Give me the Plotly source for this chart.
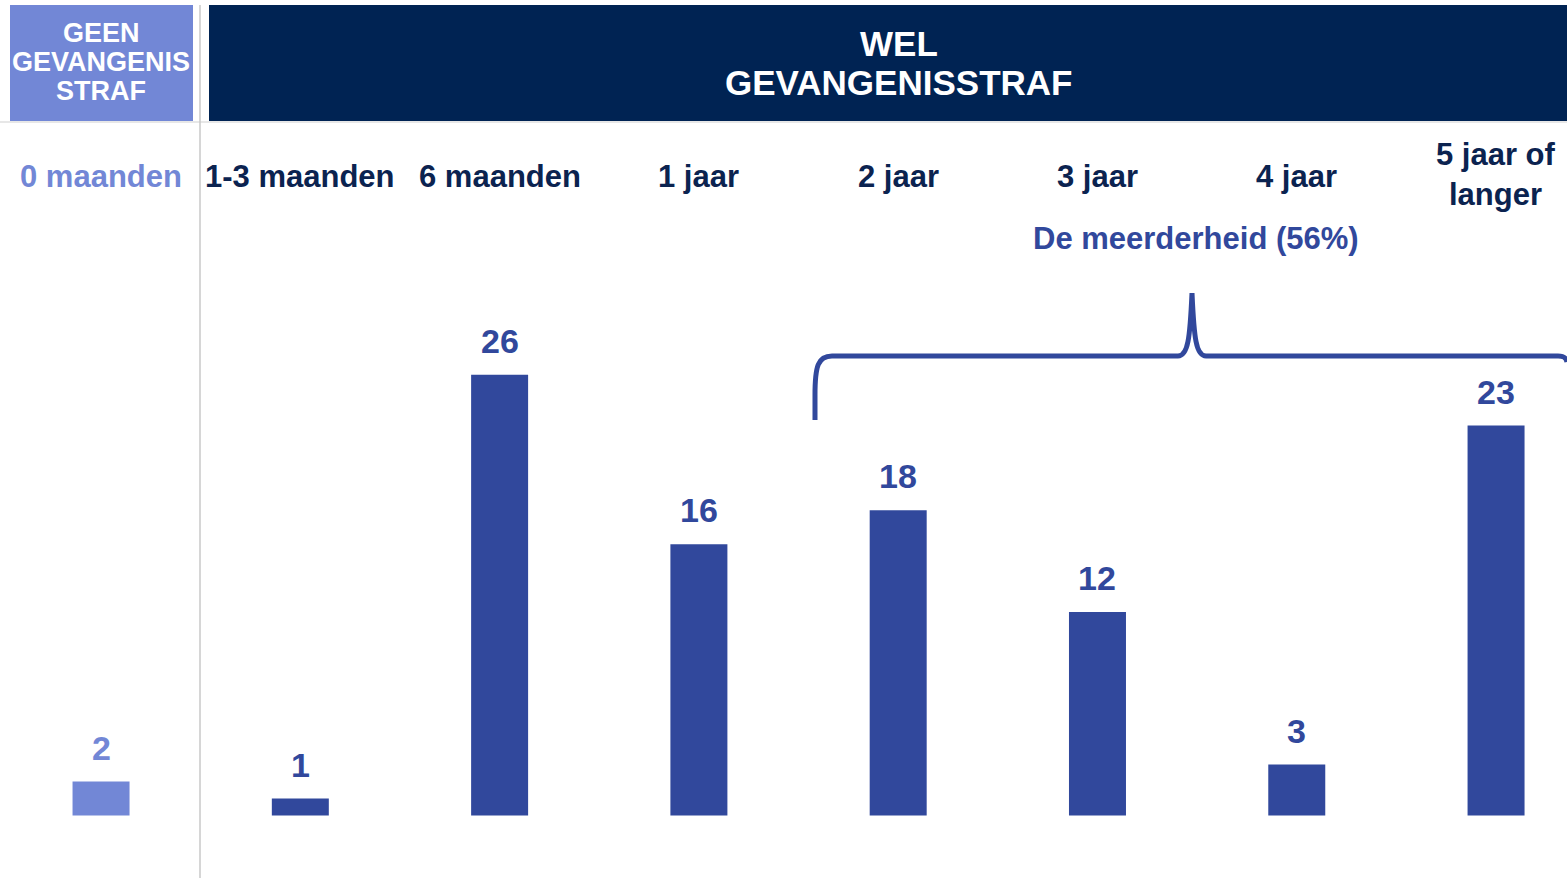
import plotly.graph_objects as go

# ---- data ----
categories = ["0 maanden", "1-3 maanden", "6 maanden", "1 jaar", "2 jaar", "3 jaar", "4 jaar", "5 jaar of<br>langer"]
values = [2, 1, 26, 16, 18, 12, 3, 23]
header_left = ["GEEN", "GEVANGENIS", "STRAF"]
header_right = ["WEL", "GEVANGENISSTRAF"]
brace_label = "De meerderheid (56%)"

W, H = 1567, 878
LIGHT = "#7287D6"
DARK = "#31489C"
NAVY = "#002353"
TEXT_NAVY = "#0B2350"
FONT = "Liberation Sans, Arial, sans-serif"

def px(x):
    return x / W

def py(y):
    return 1 - y / H

bar_colors = [LIGHT] + [DARK] * (len(values) - 1)

fig = go.Figure()
fig.add_trace(go.Bar(
    x=categories, y=values, marker_color=bar_colors, width=0.286,
    marker_line_width=0, hoverinfo="skip",
))

annotations = []
# value labels above bars
for i, (c, v) in enumerate(zip(categories, values)):
    annotations.append(dict(
        x=c, y=v, xref="x", yref="y", text=f"<b>{v}</b>", showarrow=False,
        yanchor="middle", yshift=34,
        font=dict(family=FONT, size=34, color=LIGHT if i == 0 else DARK),
    ))
# category labels
for i, c in enumerate(categories):
    multi = "<br>" in c
    annotations.append(dict(
        x=c, y=py(175 if multi else 176), xref="x", yref="paper", text=f"<b>{c}</b>",
        showarrow=False, yanchor="middle",
        font=dict(family=FONT, size=31, color=LIGHT if i == 0 else TEXT_NAVY),
    ))
# headers
for j, (t, yy) in enumerate(zip(header_left, [33, 62, 91])):
    annotations.append(dict(
        x=px(101), y=py(yy), xref="paper", yref="paper", text=f"<b>{t}</b>",
        showarrow=False, xanchor="center", yanchor="middle",
        font=dict(family=FONT, size=27, color="white"),
    ))
for j, (t, yy) in enumerate(zip(header_right, [43, 82])):
    annotations.append(dict(
        x=px(899), y=py(yy), xref="paper", yref="paper", text=f"<b>{t}</b>",
        showarrow=False, xanchor="center", yanchor="middle",
        font=dict(family=FONT, size=35, color="white"),
    ))
annotations.append(dict(
    x=px(1196), y=py(238), xref="paper", yref="paper", text=f"<b>{brace_label}</b>",
    showarrow=False, xanchor="center", yanchor="middle",
    font=dict(family=FONT, size=31, color=DARK),
))

def P(x, y):
    return f"{px(x):.5f},{py(y):.5f}"

brace = (
    f"M {P(815,420)} L {P(815,395)} C {P(815,366)} {P(818,356)} {P(832,356)} "
    f"L {P(1178,356)} C {P(1188,356)} {P(1190,338)} {P(1192,293)} "
    f"C {P(1194,338)} {P(1196,356)} {P(1206,356)} "
    f"L {P(1558,356)} C {P(1563,356)} {P(1566,357)} {P(1567,362)}"
)

shapes = [
    dict(type="rect", xref="paper", yref="paper", x0=px(10), x1=px(193), y0=py(121), y1=py(5),
         fillcolor=LIGHT, line_width=0, layer="below"),
    dict(type="rect", xref="paper", yref="paper", x0=px(209), x1=px(1567), y0=py(121), y1=py(5),
         fillcolor=NAVY, line_width=0, layer="below"),
    dict(type="line", xref="paper", yref="paper", x0=px(200), x1=px(200), y0=py(5), y1=0,
         line=dict(color="#C8C8C8", width=1.5)),
    dict(type="line", xref="paper", yref="paper", x0=0, x1=1, y0=py(122), y1=py(122),
         line=dict(color="#D0D0D0", width=1.2), layer="below"),
    dict(type="path", xref="paper", yref="paper", path=brace,
         line=dict(color=DARK, width=5)),
]

fig.update_layout(
    width=W, height=H,
    margin=dict(l=0, r=0, t=0, b=0),
    paper_bgcolor="white", plot_bgcolor="white",
    showlegend=False,
    xaxis=dict(range=[-0.507, 7.356], visible=False, fixedrange=True),
    yaxis=dict(range=[-3.69, 48.11], visible=False, fixedrange=True),
    annotations=annotations, shapes=shapes,
)

fig.write_html(
    "out.html",
    config={"displayModeBar": False},
    post_script="document.body.style.margin='0';document.body.style.overflow='hidden';",
)
